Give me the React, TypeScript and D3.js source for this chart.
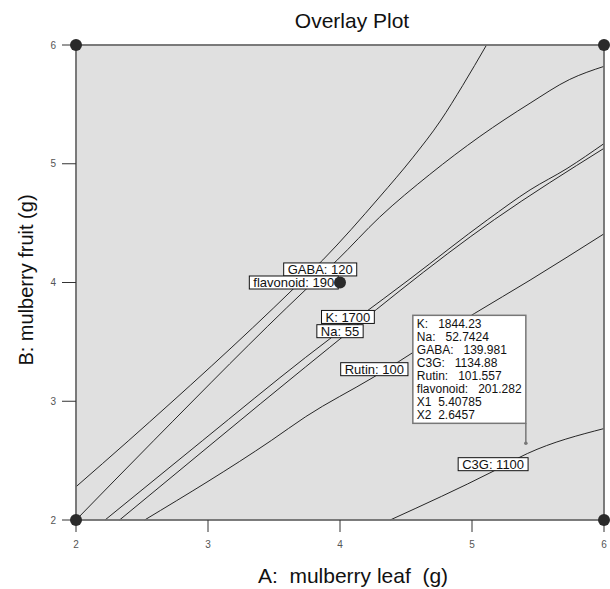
import React, { useMemo } from 'react';
import * as d3 from 'd3';

// axis ticks (A: mulberry leaf, B: mulberry fruit)
const xTicks = [2, 3, 4, 5, 6];
const yTicks = [2, 3, 4, 5, 6];

// contour lines as [A, B]
const gabaLine: [number, number][] = [
  [2.0, 2.28], [2.4, 2.67], [3.65, 3.95], [3.87, 4.19], [4.3, 4.72],
  [4.55, 5.05], [4.76, 5.36], [4.93, 5.66], [5.11, 6.0],
];
const flavonoidLine: [number, number][] = [
  [2.0, 2.0], [2.59, 2.67], [3.74, 3.94], [3.98, 4.19], [4.3, 4.55],
  [4.68, 4.91], [5.06, 5.23], [5.44, 5.51], [5.74, 5.71], [6.0, 5.82],
];
const kLine: [number, number][] = [
  [2.22, 2.0], [2.96, 2.67], [3.74, 3.37], [4.53, 4.03], [5.12, 4.53],
  [5.44, 4.78], [5.72, 4.96], [6.0, 5.17],
];
const naLine: [number, number][] = [
  [2.33, 2.0], [3.06, 2.67], [3.74, 3.29], [5.17, 4.53], [6.0, 5.13],
];
const rutinLine: [number, number][] = [
  [2.52, 2.0], [3.48, 2.67], [3.74, 2.87], [4.25, 3.2], [5.02, 3.74],
  [5.44, 4.02], [6.0, 4.41],
];
const c3gLine: [number, number][] = [
  [4.38, 2.0], [5.16, 2.41], [5.42, 2.56], [6.0, 2.77],
];

// contour labels: text and where they sit
const labelTexts = ['GABA: 120', 'flavonoid: 190', 'K: 1700', 'Na: 55', 'Rutin: 100', 'C3G: 1100'];
const labelPos: [number, number][] = [
  [3.85, 4.11], [3.65, 4.0], [4.06, 3.71], [4.0, 3.59], [4.26, 3.27], [5.16, 2.47],
];

// design points
const designPoints: [number, number][] = [[2, 2], [2, 6], [6, 2], [6, 6], [4, 4]];

// flag / tooltip
const flagPoint: [number, number] = [5.40785, 2.6457];
const flagNames = ['K:', 'Na:', 'GABA:', 'C3G:', 'Rutin:', 'flavonoid:', 'X1', 'X2'];
const flagValues = ['1844.23', '52.7424', '139.981', '1134.88', '101.557', '201.282', '5.40785', '2.6457'];
const flagGaps = ['   ', '   ', '   ', '   ', '   ', '   ', '  ', '  '];

const W = 610;
const H = 589;
const FONT = "Arial, 'Liberation Sans', sans-serif";

function measure(text: string, size: number) {
  const ctx = document.createElement('canvas').getContext('2d');
  if (!ctx) return text.length * size * 0.55;
  ctx.font = `${size}px ${FONT}`;
  return ctx.measureText(text).width;
}

export default function App() {
  const x = d3.scaleLinear().domain([2, 6]).range([76, 604]);
  const y = d3.scaleLinear().domain([2, 6]).range([520, 45]);

  const line = d3.line<[number, number]>()
    .x(d => x(d[0]))
    .y(d => y(d[1]))
    .curve(d3.curveMonotoneX);

  const curves = [gabaLine, flavonoidLine, kLine, naLine, rutinLine, c3gLine];

  const labelWidths = useMemo(() => labelTexts.map(t => measure(t, 13) + 8), []);

  const fx = x(flagPoint[0]);
  const fy = y(flagPoint[1]);
  const boxW = 113;
  const boxH = flagNames.length * 13 + 4;
  const boxX = fx - boxW;
  const boxY = fy - 20 - boxH;

  return (
    <svg width={W} height={H} style={{ position: 'absolute', left: 0, top: 0, background: '#fff' }}
      fontFamily={FONT}>
      <text x={352} y={28} fontSize={21} textAnchor="middle" fill="#111">Overlay  Plot</text>

      <rect x={x(2)} y={y(6)} width={x(6) - x(2)} height={y(2) - y(6)} fill="#e0e0e0" />

      {curves.map((c, i) => (
        <path key={i} d={line(c) || ''} fill="none" stroke="#111" strokeWidth={0.9} />
      ))}

      <rect x={x(2)} y={y(6)} width={x(6) - x(2)} height={y(2) - y(6)} fill="none"
        stroke="#6e6e6e" strokeWidth={1.8} />

      {/* y axis */}
      {yTicks.map(t => (
        <g key={t} transform={`translate(0, ${y(t)})`}>
          <line x1={62} x2={x(2)} stroke="#333" strokeWidth={1} />
          <text x={56} dy="0.35em" fontSize={10} textAnchor="end" fill="#555">{t}</text>
        </g>
      ))}
      {/* x axis */}
      {xTicks.map(t => (
        <g key={t} transform={`translate(${x(t)}, 0)`}>
          <line y1={y(2)} y2={y(2) + 12} stroke="#333" strokeWidth={1} />
          <text y={548} fontSize={10} textAnchor="middle" fill="#555">{t}</text>
        </g>
      ))}

      <text x={353} y={583} fontSize={21} textAnchor="middle" fill="#111"
        style={{ whiteSpace: 'pre' }}>{'A:  mulberry leaf  (g)'}</text>
      <text transform={`translate(33, 280) rotate(-90)`} fontSize={20} textAnchor="middle" fill="#111">
        B: mulberry fruit (g)
      </text>

      {/* contour labels */}
      {labelTexts.map((t, i) => {
        const cx = x(labelPos[i][0]);
        const cy = y(labelPos[i][1]);
        const w = labelWidths[i];
        return (
          <g key={t}>
            <rect x={cx - w / 2} y={cy - 6.5} width={w} height={13} fill="#fff" stroke="#111" strokeWidth={1} />
            <text x={cx} y={cy + 4.8} fontSize={13} textAnchor="middle" fill="#111">{t}</text>
          </g>
        );
      })}

      {/* design points */}
      {designPoints.map((p, i) => (
        <circle key={i} cx={x(p[0])} cy={y(p[1])} r={6} fill="#2a2a2a" />
      ))}

      {/* flag */}
      <line x1={fx} x2={fx} y1={boxY + boxH} y2={fy} stroke="#777" strokeWidth={1.5} />
      <circle cx={fx} cy={fy} r={1.8} fill="#777" />
      <rect x={boxX} y={boxY} width={boxW} height={boxH} fill="#fff" stroke="#777" strokeWidth={1.5} />
      {flagNames.map((n, i) => (
        <text key={n} x={boxX + 4} y={boxY + 13 + i * 13} fontSize={12} fill="#111"
          style={{ whiteSpace: 'pre' }}>{n + flagGaps[i] + flagValues[i]}</text>
      ))}
    </svg>
  );
}
